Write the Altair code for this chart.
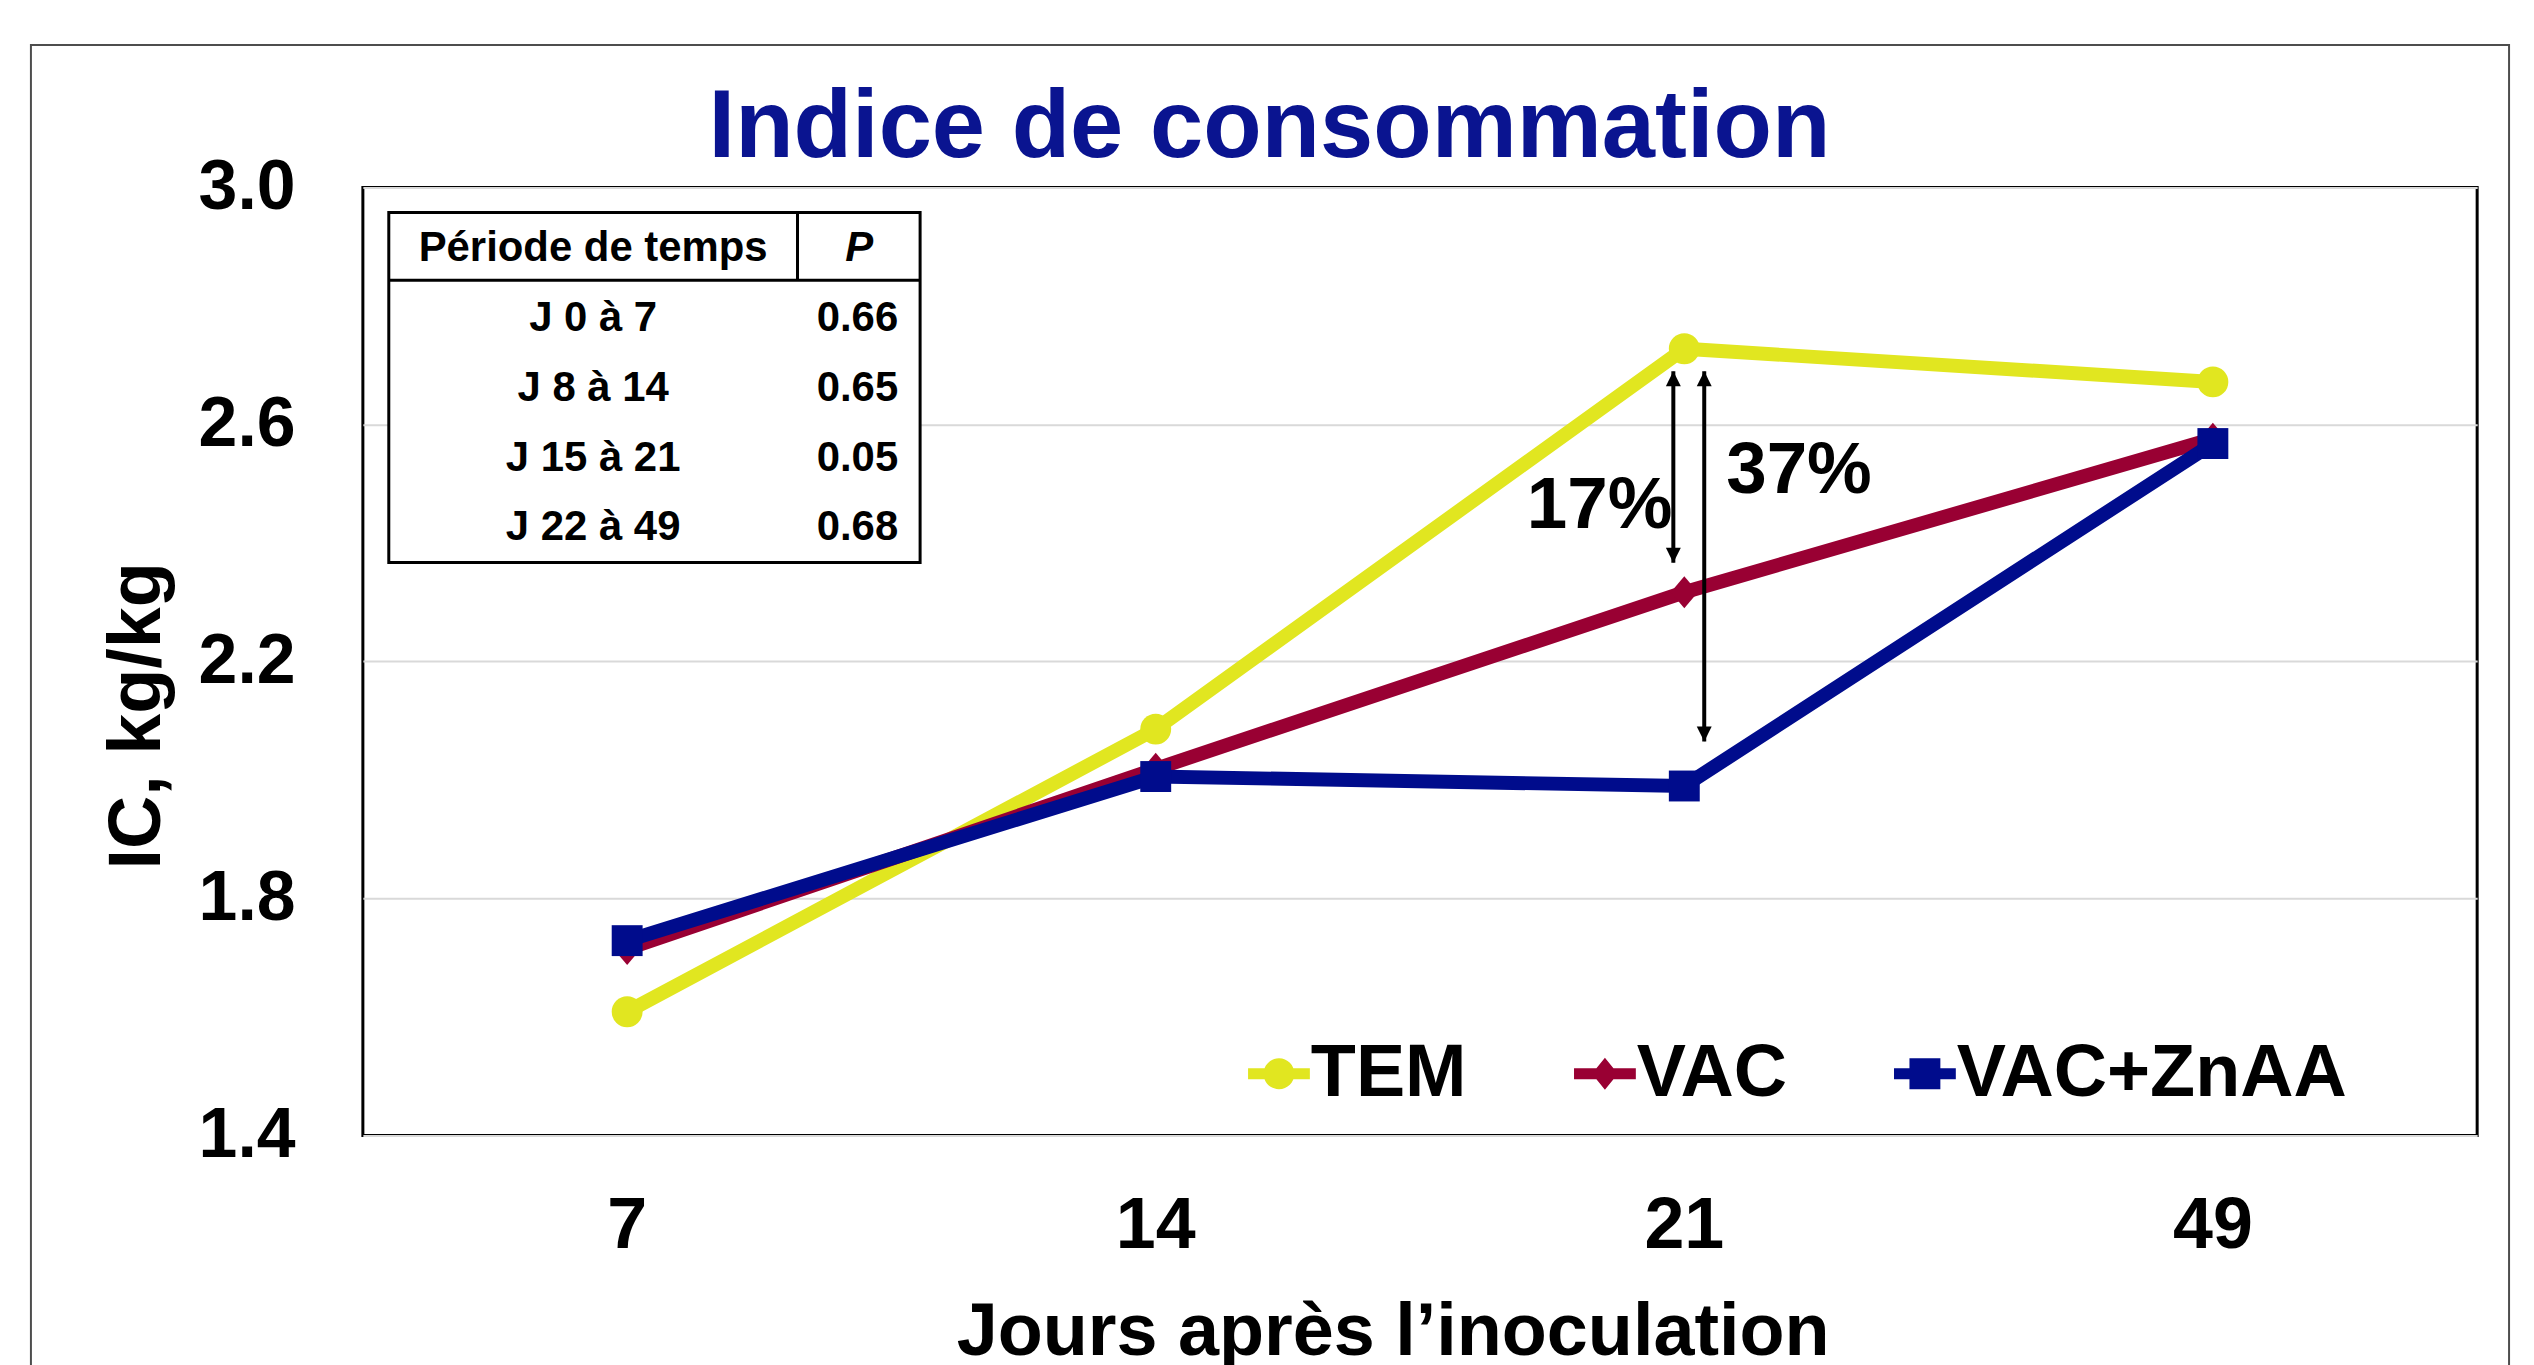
import altair as alt
import pandas as pd

# ---------------- data ----------------
days = ["7", "14", "21", "49"]
series_names = ["TEM", "VAC", "VAC+ZnAA"]
tem = [1.609, 2.086, 2.728, 2.672]
vac = [1.715, 2.019, 2.317, 2.576]
vac_znaa = [1.729, 2.006, 1.990, 2.568]

table_header = ["Période de temps", "P"]
periods = ["J 0 à 7", "J 8 à 14", "J 15 à 21", "J 22 à 49"]
p_values = ["0.66", "0.65", "0.05", "0.68"]

diff_labels = ["17%", "37%"]
diff_day = "21"
diff_top = [2.690, 2.690]
diff_bottom = [2.367, 2.065]
diff_label_y = [2.426, 2.484]

# ---------------- styles ----------------
FONT = "Liberation Sans"
colors = ["#e1e620", "#990033", "#000c8c"]
title_color = "#0a1490"
W, H = 2121, 951

series_values = [tem, vac, vac_znaa]
rows = []
for name, vals in zip(series_names, series_values):
    for d, v in zip(days, vals):
        rows.append({"series": name, "day": d, "value": v})
df = pd.DataFrame(rows)

one = pd.DataFrame({"k": [0]})

x_enc = alt.X("day:O", sort=days, scale=alt.Scale(domain=days),
              title="Jours après l’inoculation",
              axis=alt.Axis(labelAngle=0, labelFontSize=72, labelFont=FONT,
                            labelFontWeight="bold", labelColor="black",
                            labelPadding=55, ticks=False, tickSize=0, domain=False,
                            grid=False, titleFontSize=74, titleFont=FONT,
                            titleFontWeight="bold", titleColor="black",
                            titleX=1033, titleY=220, titleAlign="center",
                            titleBaseline="alphabetic"))
y_scale = alt.Scale(domain=[1.4, 3.0], nice=False, zero=False)
y_enc = alt.Y("value:Q", scale=y_scale, title="IC, kg/kg",
              axis=alt.Axis(values=[1.4, 1.8, 2.2, 2.6, 3.0], format=".1f",
                            labelFontSize=70, labelFont=FONT, labelFontWeight="bold",
                            labelColor="black", labelPadding=68, ticks=False,
                            tickSize=0, domain=False, grid=True, gridColor="#d9d9d9",
                            gridWidth=2, titleFontSize=74, titleFont=FONT,
                            titleFontWeight="bold", titleColor="black",
                            titleX=-204, titleY=529.5, titleAlign="center",
                            titleBaseline="alphabetic", titleAngle=270))
x_plain = alt.X("day:O", sort=days, scale=alt.Scale(domain=days), title="Jours après l’inoculation")
y_plain = alt.Y("value:Q", scale=y_scale, title="IC, kg/kg")

color_scale = alt.Scale(domain=series_names, range=colors)

legend_paths = [
    "M-1,-0.18H1V0.18H-1Z M0,-0.5A0.5,0.5,0,1,1,0,0.5A0.5,0.5,0,1,1,0,-0.5Z",
    "M-1,-0.18H1V0.18H-1Z M0,-0.52L0.42,0L0,0.52L-0.42,0Z",
    "M-1,-0.18H1V0.18H-1Z M-0.5,-0.5H0.5V0.5H-0.5Z",
]
marker_shapes = ["circle", "M0,-1L0.85,0L0,1L-0.85,0Z", "square"]
marker_sizes = [961, 1024, 961]

leg = alt.Legend(orient="none", legendX=882, legendY=852, direction="horizontal",
                 labelFontSize=74, labelFont=FONT, labelFontWeight="bold",
                 labelColor="black", symbolSize=3844, labelOffset={"expr": "-5"},
                 columnPadding=101, padding=0, labelLimit=800, symbolStrokeWidth=0,
                 symbolOpacity=1)

layers = []

# outer frame (decoration)
layers.append(alt.Chart(one).mark_rect(fillOpacity=0, stroke="#4d4d4d", strokeWidth=2).encode(
    x=alt.value(-333), x2=alt.value(2153), y=alt.value(-143), y2=alt.value(1300)))

# axes layer + legend (legend entries come from the explicit scale domains)
base = alt.Chart(df)
layers.append(base.mark_line(opacity=0).encode(x=x_enc, y=y_enc))
layers.append(base.transform_filter(alt.datum.value < 0).mark_point(filled=True, opacity=1).encode(
    x=x_plain, y=y_plain,
    color=alt.Color("series:N", scale=color_scale, title=None, legend=leg),
    shape=alt.Shape("series:N", scale=alt.Scale(domain=series_names, range=legend_paths),
                    title=None, legend=leg)))

for i, name in enumerate(series_names):
    sub = base.transform_filter(alt.datum.series == name)
    layers.append(sub.mark_line(strokeWidth=14).encode(
        x=x_plain, y=y_plain,
        color=alt.Color("series:N", scale=color_scale, legend=None)))
    layers.append(sub.mark_point(filled=True, opacity=1, shape=marker_shapes[i],
                                 size=marker_sizes[i]).encode(
        x=x_plain, y=y_plain,
        color=alt.Color("series:N", scale=color_scale, legend=None)))

# difference arrows
offsets = [-11, 20]
up_head = "M0,0L1,2L-1,2Z"
down_head = "M0,0L1,-2L-1,-2Z"
for i in range(2):
    adf = pd.DataFrame({"day": [diff_day], "value": [diff_top[i]], "value2": [diff_bottom[i]]})
    bdf = pd.DataFrame({"day": [diff_day], "value": [diff_bottom[i]]})
    layers.append(alt.Chart(adf).mark_rule(color="black", strokeWidth=4, xOffset=offsets[i]).encode(
        x=x_plain, y=y_plain, y2="value2:Q"))
    layers.append(alt.Chart(adf).mark_point(filled=True, opacity=1, color="black", shape=up_head,
                                            size=225, xOffset=offsets[i]).encode(x=x_plain, y=y_plain))
    layers.append(alt.Chart(bdf).mark_point(filled=True, opacity=1, color="black", shape=down_head,
                                            size=225, xOffset=offsets[i]).encode(x=x_plain, y=y_plain))

aligns = ["right", "left"]
dxs = [-12, 42]
for i in range(2):
    tdf = pd.DataFrame({"day": [diff_day], "value": [diff_label_y[i]], "label": [diff_labels[i]]})
    layers.append(alt.Chart(tdf).mark_text(align=aligns[i], baseline="alphabetic", dx=dxs[i],
                                           fontSize=73, font=FONT, fontWeight="bold",
                                           color="black").encode(
        x=x_plain, y=y_plain, text="label:N"))

# table
TL, TR, TT, TB, THL, TCD = 26, 559, 25, 376, 93, 436
layers.append(alt.Chart(one).mark_rect(fill="white", stroke="black", strokeWidth=3).encode(
    x=alt.value(TL), x2=alt.value(TR), y=alt.value(TT), y2=alt.value(TB)))
layers.append(alt.Chart(one).mark_rule(color="black", strokeWidth=3).encode(
    x=alt.value(TL), x2=alt.value(TR), y=alt.value(THL)))
layers.append(alt.Chart(one).mark_rule(color="black", strokeWidth=3).encode(
    x=alt.value(TCD), y=alt.value(TT), y2=alt.value(THL)))

TFS = 42
layers.append(alt.Chart(one).mark_text(align="center", baseline="middle", fontSize=TFS, font=FONT,
                                       fontWeight="bold", color="black").encode(
    x=alt.value(231), y=alt.value(61), text=alt.value(table_header[0])))
layers.append(alt.Chart(one).mark_text(align="center", baseline="middle", fontSize=TFS, font=FONT,
                                       fontWeight="bold", fontStyle="italic", color="black").encode(
    x=alt.value(498), y=alt.value(61), text=alt.value(table_header[1])))
row_y = [131, 201, 271, 341]
for i in range(len(periods)):
    layers.append(alt.Chart(one).mark_text(align="center", baseline="middle", fontSize=TFS, font=FONT,
                                           fontWeight="bold", color="black").encode(
        x=alt.value(231), y=alt.value(row_y[i]), text=alt.value(periods[i])))
    layers.append(alt.Chart(one).mark_text(align="right", baseline="middle", fontSize=TFS, font=FONT,
                                           fontWeight="bold", color="black").encode(
        x=alt.value(537), y=alt.value(row_y[i]), text=alt.value(p_values[i])))

chart = alt.layer(*layers).properties(
    width=W, height=H,
    background="white",
    autosize=alt.AutoSizeParams(type="none"),
    padding={"left": 356, "top": 178, "right": 49, "bottom": 228},
    title=alt.Title("Indice de consommation", fontSize=96, font=FONT, fontWeight="bold",
                    color=title_color, anchor="middle", frame="group", dx=-151,
                    baseline="alphabetic", offset=0, dy=209),
).configure_view(stroke="black", strokeWidth=3, fill="white")

chart.save("out.html", embed_options={"renderer": "svg", "actions": False})
